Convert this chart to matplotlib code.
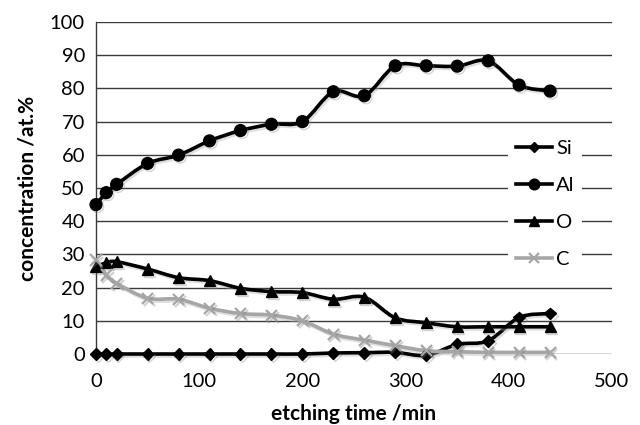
import numpy as np
import matplotlib
matplotlib.use("Agg")
import matplotlib.pyplot as plt
from matplotlib.path import Path
from matplotlib.patches import PathPatch
from matplotlib.lines import Line2D
import matplotlib.patheffects as pe

plt.rcParams['font.family'] = ['Lato', 'DejaVu Sans']

time_min = [0, 10, 20, 50, 80, 110, 140, 170, 200, 230, 260, 290, 320, 350, 380, 410, 440]
si = [0, 0, 0, 0, 0, 0, 0, 0, 0, 0.3, 0.4, 0.5, -0.4, 2.9, 4.0, 11.0, 12.2]
al = [45, 48.6, 51.1, 57.4, 59.9, 64.2, 67.3, 69.2, 70.0, 79.0, 77.8, 86.8, 86.8, 86.7, 88.3, 81.0, 79.2]
o = [26.3, 27.5, 27.8, 25.6, 23.0, 22.1, 19.8, 18.8, 18.5, 16.5, 17.1, 10.9, 9.4, 8.2, 8.2, 8.2, 8.2]
c = [28.3, 23.8, 21.3, 16.8, 16.5, 13.8, 12.2, 11.7, 10.0, 6.0, 4.2, 2.5, 1.0, 0.7, 0.5, 0.5, 0.5]

labels = ['Si', 'Al', 'O', 'C']
series = [si, al, o, c]
colors = ['#000000', '#000000', '#000000', '#a6a6a6']
markers = ['D', 'o', '^', 'x']
msizes = [6, 8.5, 8, 8]

fig = plt.figure(figsize=(6.4, 4.25), dpi=100)
ax = fig.add_axes([96/640, 1-354/425, (612-96)/640, (354-22)/425])


def smooth_path(x, y):
    x = np.asarray(x, float); y = np.asarray(y, float)
    n = len(x)
    verts = [(x[0], y[0])]
    codes = [Path.MOVETO]
    for i in range(n - 1):
        p0 = np.array([x[max(i-1, 0)], y[max(i-1, 0)]])
        p1 = np.array([x[i], y[i]])
        p2 = np.array([x[i+1], y[i+1]])
        p3 = np.array([x[min(i+2, n-1)], y[min(i+2, n-1)]])
        c1 = p1 + (p2 - p0) / 6.0
        c2 = p2 - (p3 - p1) / 6.0
        verts += [tuple(c1), tuple(c2), tuple(p2)]
        codes += [Path.CURVE4] * 3
    return Path(verts, codes)


shadow = [pe.SimpleLineShadow(offset=(1.2, -1.5), shadow_color='#808080', alpha=0.35), pe.Normal()]

for vals, col, mk, ms, lab in zip(series, colors, markers, msizes, labels):
    patch = PathPatch(smooth_path(time_min, vals), facecolor='none', edgecolor=col,
                      lw=2.6, zorder=3, capstyle='round', joinstyle='round', clip_on=False)
    patch.set_path_effects([pe.Stroke(offset=(1.2, -1.5), foreground='#b0b0b0', alpha=0.4), pe.Normal()])
    ax.add_patch(patch)
    if mk == 'x':
        ax.plot(time_min, vals, ls='none', marker=mk, ms=ms, mew=1.6, color=col, zorder=4,
                path_effects=shadow, clip_on=False)
    else:
        ax.plot(time_min, vals, ls='none', marker=mk, ms=ms, color=col, mec=col, zorder=4,
                path_effects=shadow, clip_on=False)

ax.set_xlim(0, 500)
ax.set_ylim(0, 100)
ax.set_xticks(range(0, 501, 100))
ax.set_yticks(range(0, 101, 10))
ax.grid(axis='y', color='#3a3a3a', lw=1.0)
ax.set_axisbelow(True)
for s in ['top', 'right', 'bottom']:
    ax.spines[s].set_visible(False)
ax.spines['left'].set_color('#3a3a3a')
ax.spines['left'].set_linewidth(1.0)
ax.tick_params(axis='both', length=0, labelsize=14.5, pad=8)
ax.tick_params(axis='x', pad=14)

ax.set_xlabel('etching time /min', fontsize=15, fontweight='bold', labelpad=10)
ax.set_ylabel('concentration /at.%', fontsize=15, fontweight='bold', labelpad=9)

handles = []
for col, mk, ms in zip(colors, markers, msizes):
    handles.append(Line2D([], [], color=col, lw=2.6, marker=mk, ms=ms * 0.9,
                          mew=1.6 if mk == 'x' else 1.0))
leg = fig.legend(handles, labels, loc='center', bbox_to_anchor=(545/640, 1-204/425),
                 frameon=True, facecolor='white', edgecolor='none', framealpha=1,
                 fontsize=14.5, handlelength=1.8, handletextpad=0.2, labelspacing=1.0,
                 borderpad=0.4, fancybox=False)

fig.savefig('out.png', dpi=100)
